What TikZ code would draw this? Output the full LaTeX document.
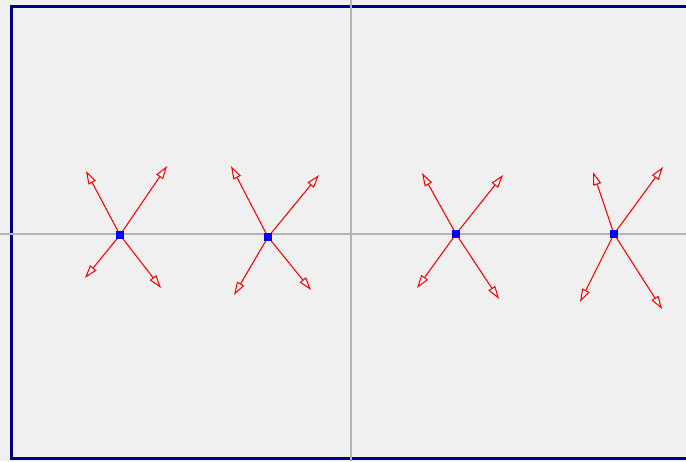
\documentclass[tikz,border=0pt]{standalone}
\usetikzlibrary{arrows.meta}
\definecolor{panelbg}{HTML}{F0F0F0}
\definecolor{framenavy}{HTML}{000080}
\definecolor{axisgray}{HTML}{B4B4B4}
\tikzset{
  pt/.style={fill=blue, draw=none, minimum size=4.6pt, inner sep=0pt, outer sep=0pt},
  vec/.style={red, line width=0.6pt, -{Triangle[length=7.5pt, width=4.6pt, fill=white]}}
}
\begin{document}
\begin{tikzpicture}[x=0.02cm, y=-0.02cm]
    \useasboundingbox (0,0) rectangle (686,461);
    \fill[panelbg] (0,0) rectangle (686,461);
    \clip (0,0) rectangle (686,461);

    % frame
    \draw[framenavy, line width=1.7pt] (11.5,6.5) rectangle (700,458.5);

    % axes
    \draw[axisgray, line width=0.7pt] (0,234) -- (686,234);
    \draw[axisgray, line width=0.7pt] (351,0) -- (351,461);

    % points
    \node[pt] (p1) at (120,235) {};
    \node[pt] (p2) at (268,237) {};
    \node[pt] (p3) at (456,234) {};
    \node[pt] (p4) at (614,234) {};

    % tips
    \coordinate (a1) at (86,171);  \coordinate (b1) at (167,166);
    \coordinate (c1) at (85,278);  \coordinate (d1) at (161,288);
    \coordinate (a2) at (231,166); \coordinate (b2) at (319,175);
    \coordinate (c2) at (234,295); \coordinate (d2) at (311,290);
    \coordinate (a3) at (422,173); \coordinate (b3) at (503,175);
    \coordinate (c3) at (417,288); \coordinate (d3) at (499,299);
    \coordinate (a4) at (593,172); \coordinate (b4) at (663,167);
    \coordinate (c4) at (580,302); \coordinate (d4) at (662,309);

    % vectors
    \foreach \i in {1,2,3,4}{
        \draw[vec] (p\i.center) -- (a\i);
        \draw[vec] (p\i.center) -- (b\i);
        \draw[vec] (p\i.center) -- (c\i);
        \draw[vec] (p\i.center) -- (d\i);
        \node[pt] at (p\i) {};
    }
\end{tikzpicture}
\end{document}
